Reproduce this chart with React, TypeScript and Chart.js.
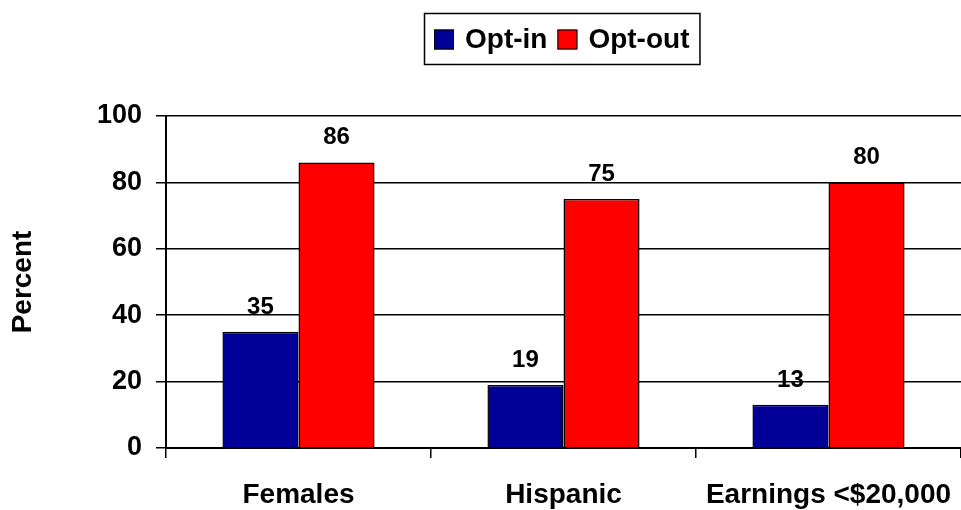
import React, { useEffect, useRef } from "react";
import { Chart, registerables } from "chart.js";

Chart.register(...registerables);

const categories = ["Females", "Hispanic", "Earnings <$20,000"];
const optIn = [35, 19, 13];
const optOut = [86, 75, 80];
const seriesNames = ["Opt-in", "Opt-out"];
const seriesColors = ["#000099", "#FF0000"];

const FONT = "'Liberation Sans', Arial, sans-serif";

const dataLabelPlugin = {
  id: "dataLabels",
  afterDatasetsDraw(chart: any) {
    const ctx = chart.ctx;
    ctx.save();
    ctx.font = `bold 24px ${FONT}`;
    ctx.fillStyle = "#000";
    ctx.textAlign = "center";
    ctx.textBaseline = "alphabetic";
    chart.data.datasets.forEach((ds: any, i: number) => {
      const meta = chart.getDatasetMeta(i);
      meta.data.forEach((el: any, j: number) => {
        ctx.fillText(String(ds.data[j]), el.x, el.y - 18);
      });
    });
    ctx.restore();
  },
};

const boxedLegendPlugin = {
  id: "boxedLegend",
  afterDraw(chart: any) {
    const ctx = chart.ctx;
    ctx.save();
    ctx.font = `bold 28px ${FONT}`;
    const sq = 20;
    const gapBoxText = 11;
    const gapItems = 10;
    const padX = 10;
    const widths = chart.data.datasets.map((ds: any) => ctx.measureText(ds.label).width);
    let total = padX * 2;
    widths.forEach((w: number, i: number) => {
      total += sq + gapBoxText + w + (i < widths.length - 1 ? gapItems : 0);
    });
    const boxH = 51;
    const left = Math.round(562 - total / 2);
    const top = 13;
    ctx.strokeStyle = "#000";
    ctx.lineWidth = 1.5;
    ctx.strokeRect(left + 0.5, top + 0.5, total, boxH);
    let x = left + padX;
    const cy = top + boxH / 2 + 1;
    chart.data.datasets.forEach((ds: any, i: number) => {
      ctx.fillStyle = ds.backgroundColor;
      ctx.fillRect(x, cy - sq / 2, sq, sq);
      ctx.lineWidth = 1;
      ctx.strokeStyle = "#000";
      ctx.strokeRect(x + 0.5, cy - sq / 2 + 0.5, sq - 1, sq - 1);
      x += sq + gapBoxText;
      ctx.fillStyle = "#000";
      ctx.textBaseline = "middle";
      ctx.textAlign = "left";
      ctx.fillText(ds.label, x, cy + 1);
      x += widths[i] + gapItems;
    });
    ctx.restore();
  },
};

export default function App() {
  const ref = useRef<HTMLCanvasElement | null>(null);
  useEffect(() => {
    if (!ref.current) return;
    const chart = new Chart(ref.current, {
      type: "bar",
      data: {
        labels: categories,
        datasets: [
          {
            label: seriesNames[0],
            data: optIn,
            backgroundColor: seriesColors[0],
            borderColor: "#000",
            borderWidth: 1.5,
          },
          {
            label: seriesNames[1],
            data: optOut,
            backgroundColor: seriesColors[1],
            borderColor: "#000",
            borderWidth: 1.5,
          },
        ],
      },
      options: {
        responsive: false,
        animation: false,
        devicePixelRatio: 1,
        layout: { autoPadding: false, padding: { top: 116, left: 0, right: 0, bottom: 0 } },
        plugins: {
          legend: { display: false },
          tooltip: { enabled: false },
        },
        datasets: {
          bar: { categoryPercentage: 0.574, barPercentage: 1 },
        },
        scales: {
          x: {
            grid: {
              display: true,
              drawOnChartArea: false,
              drawTicks: true,
              tickLength: 10,
              color: "#000",
              lineWidth: 1.5,
              offset: true,
            },
            border: { display: true, color: "#000", width: 2 },
            ticks: {
              color: "#000",
              font: { family: FONT, size: 28, weight: "bold" },
              padding: 20,
              maxRotation: 0,
              autoSkip: false,
            },
            afterFit: (scale: any) => {
              scale.height = 62;
              scale.paddingLeft = 0;
              scale.paddingRight = 0;
            },
          },
          y: {
            min: 0,
            max: 100,
            ticks: {
              stepSize: 20,
              color: "#000",
              font: { family: FONT, size: 27, weight: "bold" },
              padding: 14,
            },
            grid: {
              color: "#000",
              lineWidth: 1.5,
              tickLength: 10,
            },
            border: { display: true, color: "#000", width: 2 },
            title: {
              display: true,
              text: "Percent",
              color: "#000",
              font: { family: FONT, size: 28, weight: "bold" },
              padding: { top: 6, bottom: 0 },
            },
            afterFit: (scale: any) => {
              scale.width = 166;
            },
          },
        },
      },
      plugins: [dataLabelPlugin, boxedLegendPlugin],
    });
    return () => chart.destroy();
  }, []);
  return (
    <div style={{ position: "fixed", left: 0, top: 0, width: 961, height: 510, background: "#fff" }}>
      <canvas ref={ref} width={961} height={510} />
    </div>
  );
}
